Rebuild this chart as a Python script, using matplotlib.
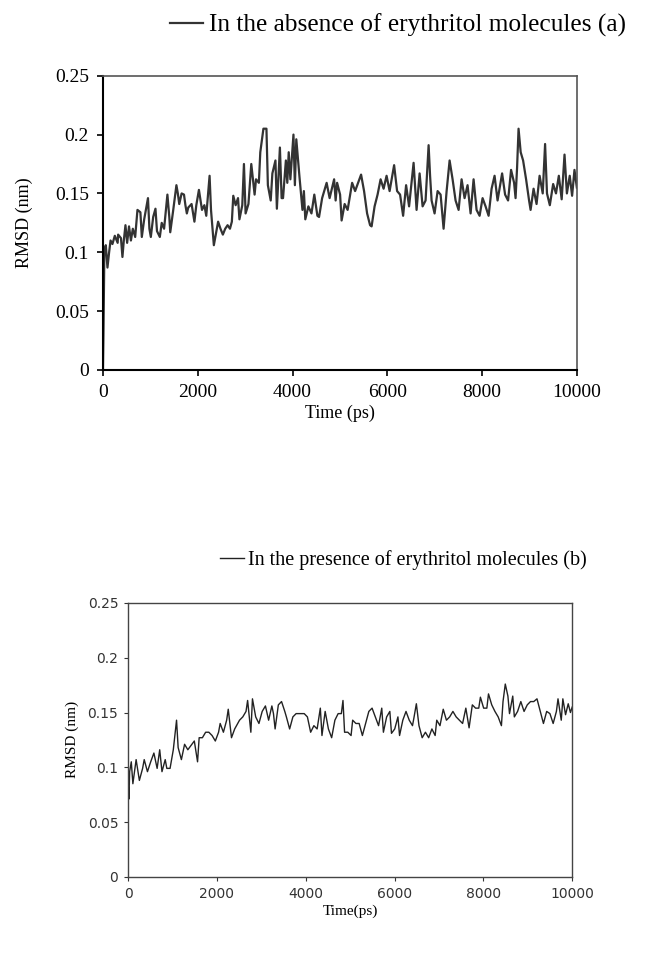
import matplotlib
matplotlib.use("Agg")
import matplotlib.pyplot as plt

# (a) without erythritol
time_a = [0, 10, 20, 30, 60, 95, 130, 160, 200, 250, 310, 320, 380, 411, 440, 475, 510, 550, 590, 630,
          680, 728, 790, 820, 870, 950, 980, 1010, 1060, 1108, 1140, 1200, 1240, 1290, 1360, 1400, 1420,
          1480, 1550, 1580, 1610, 1660, 1710, 1740, 1770, 1800, 1870, 1930, 1970, 2025, 2090, 2140, 2180,
          2250, 2280, 2340, 2380, 2430, 2480, 2530, 2580, 2630, 2680, 2720, 2750, 2800, 2850, 2880, 2940,
          2975, 3010, 3070, 3130, 3200, 3230, 3290, 3320, 3386, 3450, 3480, 3540, 3575, 3640, 3670, 3734,
          3770, 3800, 3860, 3890, 3920, 3955, 4020, 4050, 4080, 4145, 4210, 4240, 4270, 4335, 4400, 4460,
          4525, 4560, 4625, 4720, 4783, 4878, 4910, 4941, 5004, 5036, 5100, 5163, 5258, 5321, 5384, 5447,
          5510, 5574, 5637, 5669, 5732, 5795, 5859, 5922, 5985, 6049, 6144, 6207, 6270, 6334, 6397, 6460,
          6555, 6618, 6682, 6745, 6808, 6872, 6903, 6935, 6998, 7062, 7125, 7188, 7252, 7315, 7378, 7441,
          7505, 7568, 7631, 7694, 7758, 7821, 7884, 7948, 8011, 8074, 8138, 8201, 8264, 8327, 8423, 8486,
          8549, 8612, 8676, 8707, 8739, 8770, 8815, 8866, 8929, 8992, 9024, 9087, 9150, 9214, 9280, 9330,
          9370, 9430, 9500, 9560, 9620, 9680, 9740, 9790, 9850, 9900, 9950, 10000]
rmsd_a = [0.0, 0.03, 0.07, 0.102, 0.106, 0.087, 0.100, 0.110, 0.107, 0.114, 0.108, 0.115, 0.112, 0.096,
          0.110, 0.123, 0.108, 0.122, 0.110, 0.120, 0.113, 0.136, 0.134, 0.113, 0.128, 0.146, 0.120, 0.113,
          0.130, 0.137, 0.118, 0.113, 0.125, 0.120, 0.149, 0.130, 0.117, 0.135, 0.157, 0.150, 0.141, 0.150,
          0.149, 0.140, 0.133, 0.138, 0.141, 0.126, 0.140, 0.153, 0.136, 0.140, 0.131, 0.165, 0.136, 0.106,
          0.115, 0.126, 0.120, 0.115, 0.120, 0.123, 0.120, 0.126, 0.148, 0.140, 0.146, 0.128, 0.140, 0.175,
          0.133, 0.141, 0.175, 0.149, 0.162, 0.159, 0.185, 0.205, 0.205, 0.157, 0.144, 0.167, 0.178, 0.137,
          0.189, 0.146, 0.146, 0.178, 0.159, 0.185, 0.162, 0.200, 0.157, 0.196, 0.165, 0.136, 0.152, 0.128,
          0.139, 0.133, 0.149, 0.131, 0.130, 0.146, 0.159, 0.146, 0.162, 0.144, 0.159, 0.149, 0.127, 0.141,
          0.136, 0.159, 0.152, 0.159, 0.166, 0.152, 0.133, 0.123, 0.122, 0.139, 0.149, 0.162, 0.154, 0.165,
          0.152, 0.174, 0.152, 0.149, 0.131, 0.157, 0.139, 0.176, 0.136, 0.167, 0.139, 0.144, 0.191, 0.165,
          0.144, 0.133, 0.152, 0.149, 0.120, 0.152, 0.178, 0.162, 0.144, 0.136, 0.162, 0.146, 0.157, 0.133,
          0.162, 0.136, 0.131, 0.146, 0.139, 0.131, 0.154, 0.165, 0.144, 0.167, 0.149, 0.144, 0.170, 0.159,
          0.146, 0.172, 0.205, 0.185, 0.178, 0.162, 0.144, 0.136, 0.154, 0.141, 0.165, 0.150, 0.192, 0.150,
          0.140, 0.158, 0.150, 0.165, 0.145, 0.183, 0.150, 0.165, 0.148, 0.170, 0.155]

# (b) with erythritol
time_b = [0, 20, 36, 73, 109, 182, 255, 328, 364, 437, 510, 582, 655, 713, 764, 837, 873, 946, 1019, 1092,
          1128, 1201, 1273, 1346, 1419, 1492, 1565, 1601, 1674, 1747, 1819, 1892, 1965, 2038, 2074, 2147,
          2220, 2256, 2329, 2401, 2510, 2583, 2656, 2692, 2765, 2801, 2874, 2947, 3020, 3093, 3165, 3238,
          3274, 3311, 3384, 3456, 3529, 3565, 3638, 3711, 3784, 3856, 3966, 4038, 4111, 4184, 4257, 4329,
          4366, 4438, 4511, 4584, 4657, 4730, 4802, 4839, 4875, 4948, 5021, 5057, 5130, 5203, 5276, 5348,
          5421, 5494, 5567, 5640, 5712, 5749, 5822, 5894, 5931, 6004, 6076, 6113, 6186, 6258, 6331, 6404,
          6440, 6491, 6550, 6622, 6695, 6768, 6841, 6914, 6950, 7023, 7096, 7168, 7241, 7314, 7387, 7460,
          7532, 7605, 7678, 7751, 7824, 7896, 7933, 8006, 8078, 8115, 8188, 8260, 8333, 8406, 8442, 8493,
          8552, 8588, 8661, 8697, 8770, 8843, 8916, 8988, 9061, 9134, 9207, 9280, 9352, 9425, 9498, 9571,
          9644, 9680, 9753, 9789, 9850, 9910, 9960, 10000]
rmsd_b = [0.088, 0.071, 0.096, 0.105, 0.085, 0.107, 0.088, 0.099, 0.107, 0.096, 0.105, 0.113, 0.099, 0.116,
          0.096, 0.107, 0.099, 0.099, 0.116, 0.143, 0.118, 0.107, 0.121, 0.116, 0.120, 0.124, 0.105, 0.127,
          0.127, 0.132, 0.132, 0.129, 0.124, 0.132, 0.140, 0.132, 0.143, 0.153, 0.127, 0.135, 0.143, 0.146,
          0.151, 0.161, 0.132, 0.1625, 0.146, 0.140, 0.151, 0.156, 0.143, 0.156, 0.149, 0.135, 0.157, 0.160,
          0.151, 0.146, 0.135, 0.146, 0.149, 0.149, 0.149, 0.146, 0.132, 0.138, 0.135, 0.154, 0.129, 0.151,
          0.135, 0.127, 0.143, 0.149, 0.149, 0.161, 0.132, 0.132, 0.129, 0.143, 0.140, 0.140, 0.129, 0.140,
          0.151, 0.154, 0.146, 0.138, 0.154, 0.132, 0.146, 0.151, 0.131, 0.135, 0.146, 0.129, 0.143, 0.151,
          0.143, 0.138, 0.146, 0.158, 0.138, 0.127, 0.132, 0.127, 0.135, 0.129, 0.143, 0.138, 0.153, 0.143,
          0.146, 0.151, 0.146, 0.143, 0.140, 0.154, 0.136, 0.157, 0.154, 0.154, 0.164, 0.154, 0.154, 0.167,
          0.157, 0.151, 0.146, 0.138, 0.160, 0.176, 0.165, 0.149, 0.165, 0.146, 0.151, 0.160, 0.151, 0.157,
          0.160, 0.160, 0.1625, 0.151, 0.140, 0.151, 0.149, 0.140, 0.151, 0.1625, 0.143, 0.1625, 0.148, 0.158,
          0.150, 0.155]

y_ticks = [0, 0.05, 0.1, 0.15, 0.2, 0.25]
y_labels = ["0", "0.05", "0.1", "0.15", "0.2", "0.25"]
x_ticks = [0, 2000, 4000, 6000, 8000, 10000]

fig = plt.figure(figsize=(6.6, 9.71), dpi=100)
serif = "Liberation Serif"

# ---- panel (a) ----
ax1 = fig.add_axes([0.156, 0.619, 0.718, 0.303])
ax1.plot(time_a, rmsd_a, color="#333333", lw=1.6, label="In the absence of erythritol molecules (a)")
ax1.set_xlim(0, 10000)
ax1.set_ylim(0, 0.25)
ax1.set_xticks(x_ticks)
ax1.set_yticks(y_ticks)
ax1.set_yticklabels(y_labels)
ax1.tick_params(direction="out", length=4, width=1.2, labelsize=14, pad=6)
for lab in ax1.get_xticklabels() + ax1.get_yticklabels():
    lab.set_fontfamily(serif)
ax1.set_xlabel("Time (ps)", fontsize=13, fontfamily=serif, labelpad=3)
ax1.set_ylabel("RMSD (nm)", fontsize=13, fontfamily=serif, labelpad=16)
for s in ["left", "bottom"]:
    ax1.spines[s].set_linewidth(1.5)
    ax1.spines[s].set_color("black")
for s in ["top", "right"]:
    ax1.spines[s].set_linewidth(1.2)
    ax1.spines[s].set_color("#555555")
ax1.legend(loc="center left", bbox_to_anchor=(0.257, 0.974), bbox_transform=fig.transFigure,
           frameon=False, handlelength=1.3, handletextpad=0.25, borderpad=0, borderaxespad=0,
           prop={"family": serif, "size": 18.3})

# ---- panel (b) ----
ax2 = fig.add_axes([0.194, 0.097, 0.673, 0.282])
ax2.plot(time_b, rmsd_b, color="#222222", lw=1.0, label="In the presence of erythritol molecules (b)")
ax2.set_xlim(0, 10000)
ax2.set_ylim(0, 0.25)
ax2.set_xticks(x_ticks)
ax2.set_yticks(y_ticks)
ax2.set_yticklabels(y_labels)
ax2.tick_params(direction="out", length=3, width=0.8, labelsize=10, pad=4, colors="#333333")
ax2.set_xlabel("Time(ps)", fontsize=11, fontfamily=serif, labelpad=3)
ax2.set_ylabel("RMSD (nm)", fontsize=11, fontfamily=serif, labelpad=6)
for s in ax2.spines.values():
    s.set_linewidth(1.0)
    s.set_color("#444444")
ax2.legend(loc="center left", bbox_to_anchor=(0.333, 0.423), bbox_transform=fig.transFigure,
           frameon=False, handlelength=1.2, handletextpad=0.2, borderpad=0, borderaxespad=0,
           prop={"family": serif, "size": 14.5})

fig.savefig("out.png", dpi=100)
